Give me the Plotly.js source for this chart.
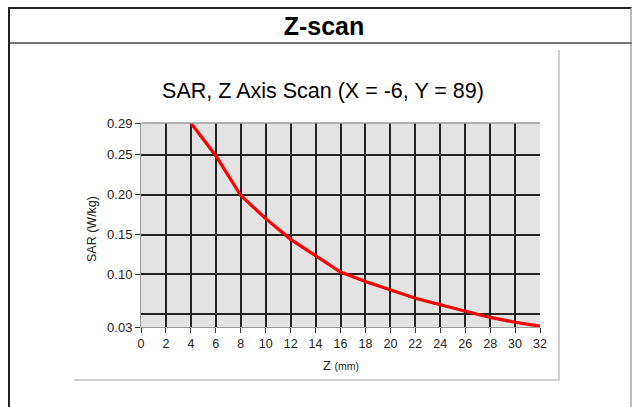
<!DOCTYPE html>
<html>
<head>
<meta charset="utf-8">
<script src="https://cdn.plot.ly/plotly-3.0.1.min.js"></script>
<style>
  html, body { margin:0; padding:0; background:#fff; width:633px; height:407px; overflow:hidden; }
  #frame { position:absolute; left:8px; top:7px; width:624px; height:410px; border-left:2px solid #222; border-top:2px solid #222; border-right:2px solid #bbb; box-sizing:border-box; }
  #hdr { position:absolute; left:10px; top:9px; width:622px; height:35px; border-bottom:2px solid #777; box-sizing:border-box;
         font-family:"Liberation Sans", Arial, sans-serif; font-weight:bold; font-size:25px; line-height:34px; text-align:center; color:#000; padding-left:6px; }
  #inner { position:absolute; left:74px; top:50px; width:486px; height:331px; border-right:2px solid #d0d0d0; border-bottom:2px solid #d0d0d0; box-sizing:border-box; }
  #chart { position:absolute; left:0; top:0; width:633px; height:407px; }
</style>
</head>
<body>
<div id="frame"></div>
<div id="hdr">Z-scan</div>
<div id="inner"></div>
<div id="chart"></div>
<script>
// Data
const zValues = [4, 6, 8, 10, 12, 14, 16, 18, 20, 22, 24, 26, 28, 30, 32];
const sarValues = [0.290, 0.249, 0.199, 0.170, 0.144, 0.123, 0.103, 0.091, 0.080, 0.070, 0.062, 0.054, 0.046, 0.040, 0.035];
const xTickVals = [0, 2, 4, 6, 8, 10, 12, 14, 16, 18, 20, 22, 24, 26, 28, 30, 32];
const yTickVals = [0.034, 0.10, 0.15, 0.20, 0.25, 0.29];
const yTickText = ["0.03", "0.10", "0.15", "0.20", "0.25", "0.29"];
const yExtraGrid = [0.05];
const chartTitle = "SAR, Z Axis Scan (X = -6, Y = 89)";

const fontFam = '"Liberation Sans", Arial, sans-serif';

const trace = {
  x: zValues, y: sarValues, type: 'scatter', mode: 'lines',
  line: { color: '#ff0000', width: 3.2 }, hoverinfo: 'skip'
};

const layout = {
  width: 633, height: 407,
  margin: { l: 141, r: 93, t: 123, b: 80 },
  paper_bgcolor: 'rgba(0,0,0,0)',
  plot_bgcolor: '#e3e3e3',
  showlegend: false,
  font: { family: fontFam, color: '#222', size: 12 },
  title: { text: chartTitle, xref: 'container', yref: 'container', x: 323/633, xanchor: 'center', y: 1 - 90/407, yanchor: 'middle',
           font: { family: fontFam, size: 21.5, color: '#000' } },
  xaxis: {
    range: [0, 32], tickmode: 'array', tickvals: xTickVals, ticks: 'outside', ticklen: 5, tickwidth: 1, tickcolor: '#333',
    showgrid: true, gridcolor: '#222', gridwidth: 2, zeroline: false,
    showline: true, linecolor: '#9a9a9a', linewidth: 1, mirror: false,
    tickfont: { family: fontFam, size: 12.5, color: '#222' }, fixedrange: true
  },
  yaxis: {
    range: [0.034, 0.29], tickmode: 'array', tickvals: yTickVals, ticktext: yTickText, ticks: 'outside', ticklen: 5, tickwidth: 1, tickcolor: '#333',
    showgrid: true, gridcolor: '#222', gridwidth: 2, zeroline: false,
    showline: true, linecolor: '#9a9a9a', linewidth: 1, mirror: false,
    minor: { tickmode: 'array', tickvals: yExtraGrid, showgrid: true, gridcolor: '#222', gridwidth: 2, ticks: '' },
    tickfont: { family: fontFam, size: 13, color: '#222' }, fixedrange: true
  },
  shapes: [
    { type: 'line', xref: 'paper', yref: 'paper', x0: 0, x1: 1, y0: 1, y1: 1, line: { color: '#9a9a9a', width: 1.5 } }
  ],
  annotations: [
    { text: 'SAR (W/kg)', xref: 'paper', yref: 'paper', x: (92 - 141) / 399, y: (327 - 229) / 204, textangle: -90,
      showarrow: false, xanchor: 'center', yanchor: 'middle', font: { family: fontFam, size: 12.5, color: '#222' } },
    { text: 'Z <span style="font-size:10.5px">(mm)</span>', xref: 'paper', yref: 'paper', x: (341 - 141) / 399, y: (327 - 365) / 204,
      showarrow: false, xanchor: 'center', yanchor: 'middle', font: { family: fontFam, size: 13, color: '#222' } }
  ]
};

Plotly.newPlot('chart', [trace], layout, { staticPlot: true, displayModeBar: false });
</script>
</body>
</html>
